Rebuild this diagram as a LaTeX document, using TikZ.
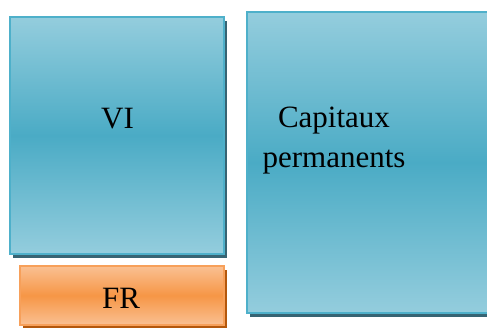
\documentclass[tikz,border=0pt]{standalone}
\usepackage{fontspec}
\setmainfont{Liberation Serif}
\usetikzlibrary{positioning,shadows}
\definecolor{aqualight}{RGB}{148,205,221}
\definecolor{aquamid}{RGB}{74,171,197}
\definecolor{aquaedge}{RGB}{78,176,202}
\definecolor{aquashadow}{RGB}{55,100,115}
\definecolor{orangelight}{RGB}{250,192,146}
\definecolor{orangemid}{RGB}{246,150,70}
\definecolor{orangeedge}{RGB}{247,160,90}
\definecolor{orangeshadow}{RGB}{180,88,12}
\tikzset{
  bluebox/.style={rectangle, draw=aquaedge, line width=2pt, inner sep=0pt,
    top color=aqualight, bottom color=aqualight, middle color=aquamid,
    drop shadow={shadow xshift=3pt, shadow yshift=-4pt, fill=aquashadow, opacity=1}},
  orangebox/.style={rectangle, draw=orangeedge, line width=2pt, inner sep=0pt,
    top color=orangelight, bottom color=orangelight, middle color=orangemid,
    drop shadow={shadow xshift=3pt, shadow yshift=-4pt, fill=orangeshadow, opacity=1}},
  boxtext/.style={inner sep=0pt, font=\fontsize{31}{40}\selectfont}
}

\begin{document}
\begin{tikzpicture}[x=1pt, y=-1pt]
\clip (0,0) rectangle (487,327);
\fill[white] (0,0) rectangle (487,327);

% boxes
\node[bluebox, minimum width=214pt, minimum height=237pt] (vi) at (117,135.5) {};
\node[orangebox, minimum width=204pt, minimum height=59pt] (fr) at (122,295.5) {};
\node[bluebox, minimum width=262pt, minimum height=301pt] (capitaux) at (378,162.5) {};

% labels
\node[boxtext, anchor=base] (vitext) at (117.5,128) {VI};
\node[boxtext, anchor=base] (frtext) at (121,308) {FR};
\node[boxtext, anchor=base, align=center] (capitauxtext) at (334,167) {Capitaux\\permanents};
\end{tikzpicture}
\end{document}
